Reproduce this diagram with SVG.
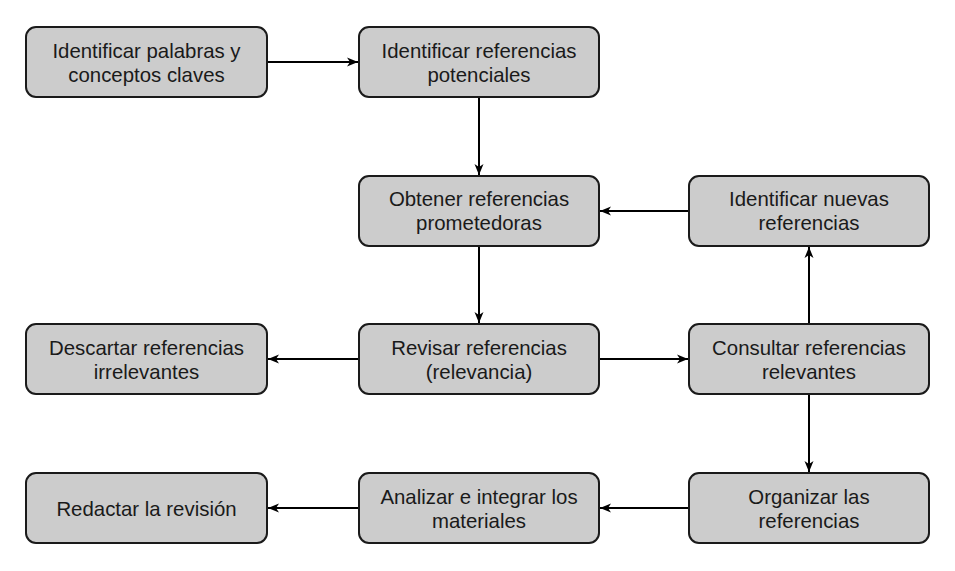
<svg xmlns="http://www.w3.org/2000/svg" width="955" height="571" viewBox="0 0 955 571">
<defs>
<style>
.box{fill:#cccccc;stroke:#1a1a1a;stroke-width:2}
.lbl{font-family:"Liberation Sans",Arial,sans-serif;font-size:20.4px;fill:#1a1a1a;text-anchor:middle}
.edge{stroke:#000;stroke-width:2;fill:none;marker-end:url(#arr)}
</style>
<marker id="arr" markerUnits="userSpaceOnUse" viewBox="0 0 12 10" refX="11" refY="5" markerWidth="12" markerHeight="10" orient="auto">
<path d="M0,0.5 L11,5 L0,9.5 L3,5 Z" fill="#000"/>
</marker>
</defs>
<rect width="955" height="571" fill="#fff"/>
<g id="n1"><rect class="box" x="26" y="27" width="241" height="70" rx="10"/><text class="lbl" x="146.5" y="58">Identificar palabras y</text><text class="lbl" x="146.5" y="82">conceptos claves</text></g>
<g id="n2"><rect class="box" x="359" y="27" width="240" height="70" rx="10"/><text class="lbl" x="479" y="58">Identificar referencias</text><text class="lbl" x="479" y="82">potenciales</text></g>
<g id="n3"><rect class="box" x="359" y="176" width="240" height="70" rx="10"/><text class="lbl" x="479" y="206">Obtener referencias</text><text class="lbl" x="479" y="230">prometedoras</text></g>
<g id="n4"><rect class="box" x="689" y="176" width="240" height="70" rx="10"/><text class="lbl" x="809" y="206">Identificar nuevas</text><text class="lbl" x="809" y="230">referencias</text></g>
<g id="n5"><rect class="box" x="26" y="324" width="241" height="70" rx="10"/><text class="lbl" x="146.5" y="355">Descartar referencias</text><text class="lbl" x="146.5" y="379">irrelevantes</text></g>
<g id="n6"><rect class="box" x="359" y="324" width="240" height="70" rx="10"/><text class="lbl" x="479" y="355">Revisar referencias</text><text class="lbl" x="479" y="379">(relevancia)</text></g>
<g id="n7"><rect class="box" x="689" y="324" width="240" height="70" rx="10"/><text class="lbl" x="809" y="355">Consultar referencias</text><text class="lbl" x="809" y="379">relevantes</text></g>
<g id="n8"><rect class="box" x="26" y="473" width="241" height="70" rx="10"/><text class="lbl" x="146.5" y="516">Redactar la revisión</text></g>
<g id="n9"><rect class="box" x="359" y="473" width="240" height="70" rx="10"/><text class="lbl" x="479" y="504">Analizar e integrar los</text><text class="lbl" x="479" y="528">materiales</text></g>
<g id="n10"><rect class="box" x="689" y="473" width="240" height="70" rx="10"/><text class="lbl" x="809" y="504">Organizar las</text><text class="lbl" x="809" y="528">referencias</text></g>
<g id="edges">
<path class="edge" d="M268,62 H358"/>
<path class="edge" d="M479,98 V175"/>
<path class="edge" d="M688,211 H600"/>
<path class="edge" d="M479,247 V323"/>
<path class="edge" d="M358,359 H268"/>
<path class="edge" d="M600,359 H688"/>
<path class="edge" d="M809,323 V247"/>
<path class="edge" d="M809,395 V472"/>
<path class="edge" d="M688,508 H600"/>
<path class="edge" d="M358,508 H268"/>
</g>
</svg>
